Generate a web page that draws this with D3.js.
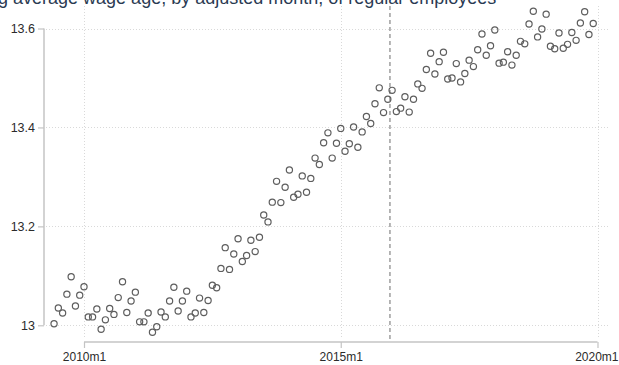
<!DOCTYPE html>
<html>
<head>
<meta charset="utf-8">
<script src="https://cdn.jsdelivr.net/npm/d3@7"></script>
<style>
  html, body { margin: 0; padding: 0; background: #fff; }
  svg { display: block; font-family: "Liberation Sans", Arial, sans-serif; }
</style>
</head>
<body>
<svg id="chart" width="619" height="365"></svg>
<script>
// Monthly series, first observation 2009m6 (month index -7 relative to 2010m1)
const startYear = 2009;
const startMonth = 6;
const logWage = [
  13.003, 13.035, 13.025, 13.063, 13.098, 13.039, 13.061, 13.078, 13.017, 13.017,
  13.033, 12.992, 13.011, 13.034, 13.022, 13.056, 13.088, 13.026, 13.049, 13.067,
  13.007, 13.007, 13.025, 12.986, 12.997, 13.027, 13.017, 13.049, 13.077, 13.029,
  13.049, 13.069, 13.017, 13.025, 13.055, 13.026, 13.050, 13.081, 13.076, 13.115,
  13.157, 13.113, 13.144, 13.175, 13.129, 13.141, 13.172, 13.149, 13.178, 13.223,
  13.209, 13.249, 13.291, 13.248, 13.279, 13.314, 13.259, 13.265, 13.302, 13.269,
  13.297, 13.338, 13.325, 13.369, 13.389, 13.338, 13.368, 13.398, 13.352, 13.367,
  13.401, 13.360, 13.391, 13.422, 13.408, 13.448, 13.480, 13.430, 13.457, 13.475,
  13.432, 13.439, 13.462, 13.431, 13.457, 13.488, 13.479, 13.517, 13.550, 13.508,
  13.533, 13.552, 13.498, 13.500, 13.529, 13.492, 13.509, 13.536, 13.523, 13.557,
  13.589, 13.546, 13.565, 13.597, 13.530, 13.532, 13.553, 13.526, 13.546, 13.574,
  13.569, 13.609, 13.635, 13.583, 13.599, 13.629, 13.564, 13.559, 13.591, 13.560,
  13.568, 13.592, 13.576, 13.611, 13.634, 13.588, 13.610
];
const xTickLabels = ["2010m1", "2015m1", "2020m1"];
const xTickMonths = [0, 60, 120];          // months since 2010m1
const yTicks = [13, 13.2, 13.4, 13.6];
const yTickLabels = ["13", "13.2", "13.4", "13.6"];
const breakMonth = 71.5;                    // boundary between 2015m12 and 2016m1
const titleText = "Log average wage age, by adjusted month, of regular employees";

const points = logWage.map((v, i) => ({
  m: (startYear - 2010) * 12 + (startMonth - 1) + i,
  v: v
}));

const svg = d3.select("#chart");

const x = d3.scaleLinear().domain([0, 120]).range([84, 597.5]);
const y = d3.scaleLinear().domain([13, 13.6]).range([325.3, 28.5]);

const plotLeft = 44, plotRight = 608, plotTop = 6, axisY = 342;

// Title (runs off the top edge)
svg.append("text")
  .attr("x", -22)
  .attr("y", 4)
  .attr("font-size", 18)
  .attr("fill", "#2a3a52")
  .text(titleText);

// Gridlines
const grid = svg.append("g").attr("stroke", "#d9d9d9").attr("stroke-width", 1)
  .attr("stroke-dasharray", "1,2").attr("fill", "none");
grid.selectAll("line.h").data(yTicks).join("line")
  .attr("class", "h")
  .attr("x1", plotLeft + 2).attr("x2", plotRight)
  .attr("y1", d => Math.round(y(d)) + 0.5).attr("y2", d => Math.round(y(d)) + 0.5);
grid.selectAll("line.v").data(xTickMonths).join("line")
  .attr("class", "v")
  .attr("y1", plotTop).attr("y2", axisY - 3)
  .attr("x1", d => Math.round(x(d)) + 0.5).attr("x2", d => Math.round(x(d)) + 0.5);

// Y axis
const yAxis = d3.axisLeft(y)
  .tickValues(yTicks)
  .tickFormat((d, i) => yTickLabels[i])
  .tickSize(6)
  .tickPadding(3);
const gy = svg.append("g").attr("transform", `translate(${plotLeft},0)`).call(yAxis);
gy.select(".domain").attr("stroke", "#c4c4c4").attr("stroke-width", 1.5)
  .attr("d", `M0,${y(13)}V${y(13.6)}`);
gy.selectAll(".tick line").attr("stroke", "#c4c4c4").attr("stroke-width", 1.2);
gy.selectAll(".tick text").attr("font-size", 12.5).attr("fill", "#2b2b2b")
  .attr("font-family", "Liberation Sans, Arial, sans-serif");

// X axis
const xAxis = d3.axisBottom(x)
  .tickValues(xTickMonths)
  .tickFormat((d, i) => xTickLabels[i])
  .tickSize(6)
  .tickPadding(4);
const gx = svg.append("g").attr("transform", `translate(0,${axisY})`).call(xAxis);
gx.select(".domain").attr("stroke", "#a8a8a8").attr("stroke-width", 1.2)
  .attr("d", `M${x(0)},0H${x(120)}`);
gx.selectAll(".tick line").attr("stroke", "#c4c4c4").attr("stroke-width", 1.2);
gx.selectAll(".tick text").attr("font-size", 12).attr("fill", "#2b2b2b")
  .attr("font-family", "Liberation Sans, Arial, sans-serif");
// keep the last label inside the right edge
gx.selectAll(".tick text").filter((d, i) => i === xTickMonths.length - 1)
  .attr("text-anchor", "end").attr("x", 618 - x(120));

// Break line
svg.append("line")
  .attr("x1", x(breakMonth)).attr("x2", x(breakMonth))
  .attr("y1", plotTop).attr("y2", axisY)
  .attr("stroke", "#7a7a7a").attr("stroke-width", 1.1)
  .attr("stroke-dasharray", "4,3");

// Observations
svg.append("g").selectAll("circle").data(points).join("circle")
  .attr("cx", d => x(d.m))
  .attr("cy", d => y(d.v))
  .attr("r", 3.1)
  .attr("fill", "none")
  .attr("stroke", "#5e5e5e")
  .attr("stroke-width", 1.2);
</script>
</body>
</html>
